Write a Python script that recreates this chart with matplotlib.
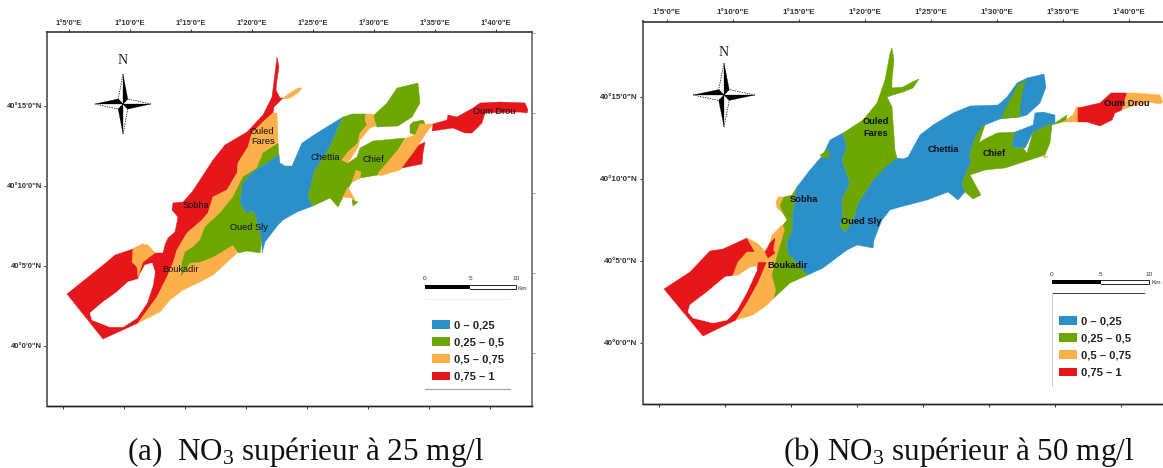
import matplotlib
matplotlib.use("Agg")
import matplotlib.pyplot as plt
from matplotlib.patches import Patch
import numpy as np

BLEU = "#2b8fc9"
VERT = "#6ea600"
ORANGE = "#fdb04a"
ROUGE = "#e6171b"

classes = ["0 – 0,25", "0,25 – 0,5", "0,5 – 0,75", "0,75 – 1"]
couleurs = [BLEU, VERT, ORANGE, ROUGE]

lon_minutes = [5, 10, 15, 20, 25, 30, 35, 40]
lat_minutes = [15, 10, 5, 0]
lon_labels = ["1°5'0\"E", "1°10'0\"E", "1°15'0\"E", "1°20'0\"E", "1°25'0\"E", "1°30'0\"E", "1°35'0\"E", "1°40'0\"E"]
lat_labels = ["40°15'0\"N", "40°10'0\"N", "40°5'0\"N", "40°0'0\"N"]

a_rouge = [(67,294),(87,278),(107,262),(115,255),(133,249),(143,244),(155,253),(163,253),(165,245),(168,238),(175,232),(178,217),(172,210),(173,203),(183,202),(192,192),(200,180),(213,160),(225,145),(247,132),(263,115),(272,97),(275,73),(277,57),(279,67),(277,80),(276,90),(280,98),(283,98),(274,107),(273,113),(263,122),(252,133),(248,147),(238,163),(237,173),(227,190),(213,197),(208,213),(202,220),(187,233),(177,250),(173,263),(167,277),(157,297),(138,323),(103,339)]
a_trou = [(140,274),(145,265),(152,263),(155,272),(153,285),(147,303),(137,318),(123,327),(110,327),(92,320),(90,313),(103,302),(117,292),(128,282),(138,279)]
a_orange = [(277,113),(278,142),(263,153),(257,168),(243,177),(233,197),(220,213),(205,227),(200,240),(193,247),(185,252),(182,263),(180,275),(190,263),(200,262),(213,257),(233,245),(237,253),(222,267),(213,275),(200,282),(183,290),(170,300),(160,312),(138,323),(157,297),(167,277),(173,263),(177,250),(187,233),(202,220),(208,213),(213,197),(227,190),(237,173),(238,163),(248,147),(252,133),(263,122),(273,113)]
a_orange_ouest = [(133,249),(143,244),(148,245),(155,253),(143,262),(138,277),(137,267),(132,262)]
a_orange_branche = [(283,98),(290,93),(298,88),(302,88),(298,93),(290,98),(283,99)]
a_orange_centre = [(366,114),(373,114),(376,126),(370,128),(360,140),(358,147),(348,163),(342,160),(348,152),(358,143),(360,133),(367,125),(365,120)]
a_orange_sud = [(352,182),(356,170),(361,172),(360,178)]
a_orange_queue = [(348,187),(343,197),(352,198),(354,205),(355,200)]
a_orange_diag = [(420,124),(433,124),(427,132),(415,150),(400,170),(380,176),(378,173),(387,163),(398,150),(406,138),(415,135)]
a_vert = [(278,143),(279,155),(267,163),(253,172),(243,183),(240,203),(247,213),(253,210),(257,220),(262,240),(260,253),(247,251),(238,253),(233,245),(213,257),(200,262),(190,263),(181,276),(182,263),(185,252),(193,247),(200,240),(205,227),(220,213),(233,197),(243,177),(257,168),(263,153)]
a_vert_centre = [(343,117),(352,114),(366,114),(365,120),(367,125),(360,133),(358,143),(348,152),(342,160),(348,163),(357,157),(360,148),(373,141),(405,138),(398,150),(387,163),(378,175),(360,178),(352,182),(343,197),(338,207),(330,198),(313,206),(308,197),(315,170),(330,147)]
a_vert_lobe = [(372,117),(387,103),(397,88),(418,83),(420,103),(412,117),(398,126),(377,127)]
a_vert_petit = [(410,125),(413,122),(423,120),(425,123),(420,126),(415,135),(410,133)]
a_vert_pointe = [(352,200),(358,202),(353,206)]
a_bleu = [(343,117),(317,133),(302,143),(292,166),(285,166),(280,163),(279,155),(267,163),(253,172),(243,183),(240,203),(247,213),(253,210),(257,220),(262,240),(262,253),(265,242),(278,225),(283,220),(297,212),(313,206),(308,197),(315,170),(330,147)]
a_rouge_sud = [(425,142),(423,153),(422,164),(402,168),(395,171),(400,168),(413,148)]
a_rouge_est = [(433,124),(447,120),(448,115),(457,117),(473,108),(480,103),(500,102),(525,103),(528,110),(527,113),(520,112),(485,113),(482,123),(472,133),(465,133),(453,128),(432,131)]

b_rouge = [(664,289),(690,272),(710,251),(723,249),(747,238),(755,252),(758,262),(767,262),(758,283),(747,303),(736,320),(703,336)]
b_trou = [(725,277),(707,292),(690,305),(688,312),(693,318),(713,323),(727,320),(737,310),(747,292),(757,270),(757,263),(750,267),(738,275)]
b_orange_ouest = [(747,238),(757,243),(767,253),(768,262),(758,262),(757,266),(750,267),(738,275),(733,275),(738,262),(747,252),(755,252)]
b_orange = [(767,253),(772,235),(782,225),(787,228),(785,235),(778,253),(772,275),(776,290),(774,298),(767,305),(753,315),(736,320),(747,303),(758,283),(767,262)]
b_rouge_petit = [(770,243),(775,238),(773,250),(775,253),(768,258),(765,252)]
b_orange_sobha = [(776,202),(778,197),(784,197),(780,205),(783,213),(777,208)]
b_vert_ouest = [(784,197),(792,195),(797,187),(793,213),(792,227),(793,230),(787,242),(788,253),(808,275),(790,283),(774,298),(776,290),(772,275),(778,253),(785,230),(783,225),(787,220),(783,213),(780,205)]
b_bleu = [(797,187),(810,170),(823,155),(830,140),(843,133),(847,147),(842,160),(850,183),(842,200),(843,217),(840,225),(845,232),(848,227),(853,220),(858,203),(873,180),(887,163),(897,158),(903,159),(908,157),(920,135),(933,125),(953,113),(970,106),(998,105),(1007,97),(1017,83),(1027,78),(1044,74),(1046,87),(1040,103),(1027,115),(1020,117),(1000,119),(985,125),(975,138),(969,157),(972,160),(962,183),(965,192),(958,200),(948,192),(927,200),(900,207),(890,210),(882,220),(874,240),(873,248),(857,245),(847,250),(823,268),(808,275),(788,253),(787,242),(793,230),(792,227),(793,213)]
b_vert_fares = [(892,48),(894,60),(892,80),(892,88),(903,87),(912,82),(919,79),(913,88),(903,92),(893,95),(887,97),(892,107),(895,150),(897,158),(885,167),(873,180),(858,203),(853,220),(845,232),(840,225),(843,217),(842,200),(850,183),(842,160),(847,147),(843,133),(863,120),(877,103),(885,80),(890,53)]
b_vert_chief = [(982,126),(985,125),(979,143),(983,140),(997,133),(1015,132),(1012,147),(1023,148),(1027,153),(1033,132),(1047,125),(1055,123),(1067,115),(1066,121),(1052,125),(1050,143),(1045,155),(1005,168),(985,170),(970,175),(981,195),(973,199),(965,192),(962,183),(972,160),(969,157),(975,138)]
b_bleu_lac = [(1015,132),(1033,125),(1035,113),(1043,112),(1055,115),(1055,123),(1047,125),(1033,132),(1025,148),(1012,147)]
b_vert_lobe = [(1001,118),(1010,100),(1018,85),(1026,80),(1023,88),(1020,107),(1020,117)]
b_vert_tache = [(820,155),(828,150),(830,155),(828,158),(823,158)]
b_orange_est = [(1063,122),(1073,115),(1077,106),(1080,108),(1078,122)]
b_rouge_est = [(1078,108),(1100,103),(1111,93),(1127,93),(1122,110),(1115,113),(1112,120),(1100,126),(1087,122),(1078,122)]
b_orange_queue = [(1127,93),(1137,93),(1160,95),(1163,102),(1160,104),(1147,102),(1127,108),(1122,110)]
b_orange_mini = [(1043,155),(1048,157),(1044,158)]

a_couches = [(a_rouge, ROUGE), (a_trou, "white"), (a_orange, ORANGE), (a_orange_ouest, ORANGE), (a_orange_branche, ORANGE),
             (a_vert, VERT), (a_bleu, BLEU), (a_vert_centre, VERT), (a_vert_lobe, VERT), (a_orange_centre, ORANGE),
             (a_orange_sud, ORANGE), (a_orange_queue, ORANGE), (a_vert_pointe, VERT), (a_rouge_sud, ROUGE),
             (a_vert_petit, VERT), (a_orange_diag, ORANGE), (a_rouge_est, ROUGE)]
b_couches = [(b_rouge, ROUGE), (b_trou, "white"), (b_orange_ouest, ORANGE), (b_orange, ORANGE), (b_rouge_petit, ROUGE),
             (b_orange_sobha, ORANGE), (b_vert_ouest, VERT), (b_bleu, BLEU), (b_vert_fares, VERT), (b_vert_chief, VERT),
             (b_bleu_lac, BLEU), (b_vert_lobe, VERT), (b_vert_tache, VERT), (b_orange_est, ORANGE), (b_rouge_est, ROUGE),
             (b_orange_queue, ORANGE), (b_orange_mini, ORANGE)]

a_noms = [("Ouled", 262, 131), ("Fares", 263, 141.5), ("Sobha", 196, 206), ("Oued Sly", 249, 228), ("Boukadir", 181, 270),
          ("Chettia", 325, 157), ("Chief", 373, 160), ("Oum Drou", 494, 112)]
b_noms = [("Ouled", 876, 122), ("Fares", 876, 133), ("Sobha", 804, 200), ("Oued Sly", 861, 222), ("Boukadir", 788, 265),
          ("Chettia", 943, 149), ("Chief", 994, 153), ("Oum Drou", 1127, 103)]

W, H = 1163, 468
plt.rcParams["font.family"] = ["Liberation Sans", "DejaVu Sans"]
plt.rcParams["mathtext.default"] = "regular"
fig = plt.figure(figsize=(W / 100, H / 100), dpi=100)


def panneau(boite, x5, px_lon, y15, px_lat, couches, noms, gras, bas_decale, taille):
    x0, y0, x1, y1 = boite
    ax = fig.add_axes([x0 / W, 1 - y1 / H, (x1 - x0) / W, (y1 - y0) / H])

    def lon(x):
        return 5 + (np.asarray(x, dtype=float) - x5) / px_lon

    def lat(y):
        return 15 - (np.asarray(y, dtype=float) - y15) / px_lat

    ax.set_xlim(lon(x0), lon(x1))
    ax.set_ylim(lat(y1), lat(y0))

    for contour, couleur in couches:
        xs, ys = zip(*contour)
        ax.fill(lon(xs), lat(ys), color=couleur, lw=0.3, zorder=2)

    for nom, x, y in noms:
        ax.text(lon(x), lat(y), nom, ha="center", va="center", fontsize=6.7, zorder=5,
                color="#101018", fontweight=gras)

    ax.xaxis.tick_top()
    ax.set_xticks(lon_minutes, lon_labels)
    ax.set_yticks(lat_minutes, lat_labels)
    ax.tick_params(axis="both", length=2.5, width=0.7, labelsize=taille, pad=1.2, colors="#333333")
    for lab in ax.get_xticklabels() + ax.get_yticklabels():
        lab.set_fontweight("bold")

    sec = ax.secondary_xaxis("bottom")
    sec.set_xticks([m - bas_decale for m in lon_minutes], [""] * 8)
    sec.tick_params(length=2.5, width=0.7, color="#333333")
    sec.spines["bottom"].set_linewidth(1.0)
    sec.spines["bottom"].set_color("#222222")

    for cote, couleur, ep in [("top", "#333333", 1.2), ("left", "#666666", 1.4), ("right", "#666666", 1.2), ("bottom", "#222222", 1.0)]:
        ax.spines[cote].set_color(couleur)
        ax.spines[cote].set_linewidth(ep)
    return ax, lon, lat


def rose(ax, lon, lat, cx, cy, rx, ry, ny):
    k = 0.17
    for sx, sy, vx, vy in [(0, -1, 1, 0), (0, 1, -1, 0), (1, 0, 0, 1), (-1, 0, 0, -1)]:
        tip = (cx + sx * rx, cy + sy * ry)
        noir = (cx + sx * k * rx + vx * k * rx, cy + sy * k * ry + vy * k * ry)
        blanc = (cx + sx * k * rx - vx * k * rx, cy + sy * k * ry - vy * k * ry)
        ax.fill(lon([tip[0], noir[0], cx]), lat([tip[1], noir[1], cy]), color="black", lw=0.2, zorder=4)
        ax.plot(lon([tip[0], blanc[0], cx]), lat([tip[1], blanc[1], cy]), color="black", lw=0.5,
                ls=(0, (2, 1.5)), zorder=4)
    ax.text(lon(cx), lat(ny), "N", family="Liberation Serif", fontsize=10, ha="center", va="center", color="#222222")


def echelle(ax, lon, lat, x0, x1, y, nomx):
    xm = (x0 + x1) / 2
    ax.fill(lon([x0, xm, xm, x0]), lat([y - 2, y - 2, y + 2, y + 2]), color="black", lw=0, zorder=4)
    ax.plot(lon([xm, x1, x1, xm]), lat([y - 2, y - 2, y + 2, y + 2]), color="black", lw=0.6, zorder=4)
    for t, x in [("0", x0), ("5", xm), ("10", x1)]:
        ax.text(lon(x), lat(y - 8), t, fontsize=4.6, ha="center", va="center", color="#333333")
    ax.text(lon(nomx), lat(y + 1), "Km", fontsize=4.6, ha="left", va="center", color="#333333")


def legende(ax, x, y):
    poignees = [Patch(facecolor=c, edgecolor="none") for c in couleurs]
    ax.legend(poignees, classes, loc="upper left", bbox_to_anchor=(x / W, 1 - y / H), bbox_transform=fig.transFigure,
              frameon=False, prop={"weight": "bold", "size": 8, "family": "Liberation Sans"}, handlelength=1.65, handleheight=0.85,
              handletextpad=0.35, labelspacing=0.62, borderpad=0, borderaxespad=0, labelcolor="#222222")


ax_a, lon_a, lat_a = panneau((47.3, 32, 531.7, 406.3), 69, 12.2, 106, 16.0, a_couches, a_noms, "normal", 0.5, 5.5)
ax_b, lon_b, lat_b = panneau((642.7, 21.5, 1170, 404), 666.7, 13.2, 96.7, 16.4, b_couches, b_noms, "bold", 0.55, 5.9)

ax_b.spines["right"].set_visible(False)
sec_a = ax_a.secondary_yaxis("right")
sec_a.set_yticks([lat_a(y) for y in [33, 113, 193, 272.7, 353.3]], [""] * 5)
sec_a.tick_params(length=2, width=0.6, color="#888888")
sec_a.spines["right"].set_visible(False)

rose(ax_a, lon_a, lat_a, 123, 104, 28, 30, 61)
rose(ax_b, lon_b, lat_b, 724, 95, 31, 32, 52)

echelle(ax_a, lon_a, lat_a, 425, 516, 287, 517)
echelle(ax_b, lon_b, lat_b, 1052, 1149, 282, 1151)

ax_a.plot(lon_a([425, 510]), lat_a([389, 389]), color="#aaaaaa", lw=0.9)
ax_a.plot(lon_a([425, 510]), lat_a([299, 299]), color="#eeeeee", lw=0.6)
ax_b.plot(lon_b([1052, 1144]), lat_b([293, 293]), color="#333333", lw=0.7)
ax_b.plot(lon_b([1052, 1052]), lat_b([293, 386]), color="#cccccc", lw=0.7)

legende(ax_a, 432, 320)
legende(ax_b, 1059, 316)

fig.text(127 / W, 1 - 460 / H, "(a)  NO$_{3}$ supérieur à 25 mg/l", family="Liberation Serif", fontsize=22.4, color="#111111", va="baseline")
fig.text(783 / W, 1 - 460 / H, "(b) NO$_{3}$ supérieur à 50 mg/l", family="Liberation Serif", fontsize=22.4, color="#111111", va="baseline")

fig.savefig("out.png", dpi=100)
